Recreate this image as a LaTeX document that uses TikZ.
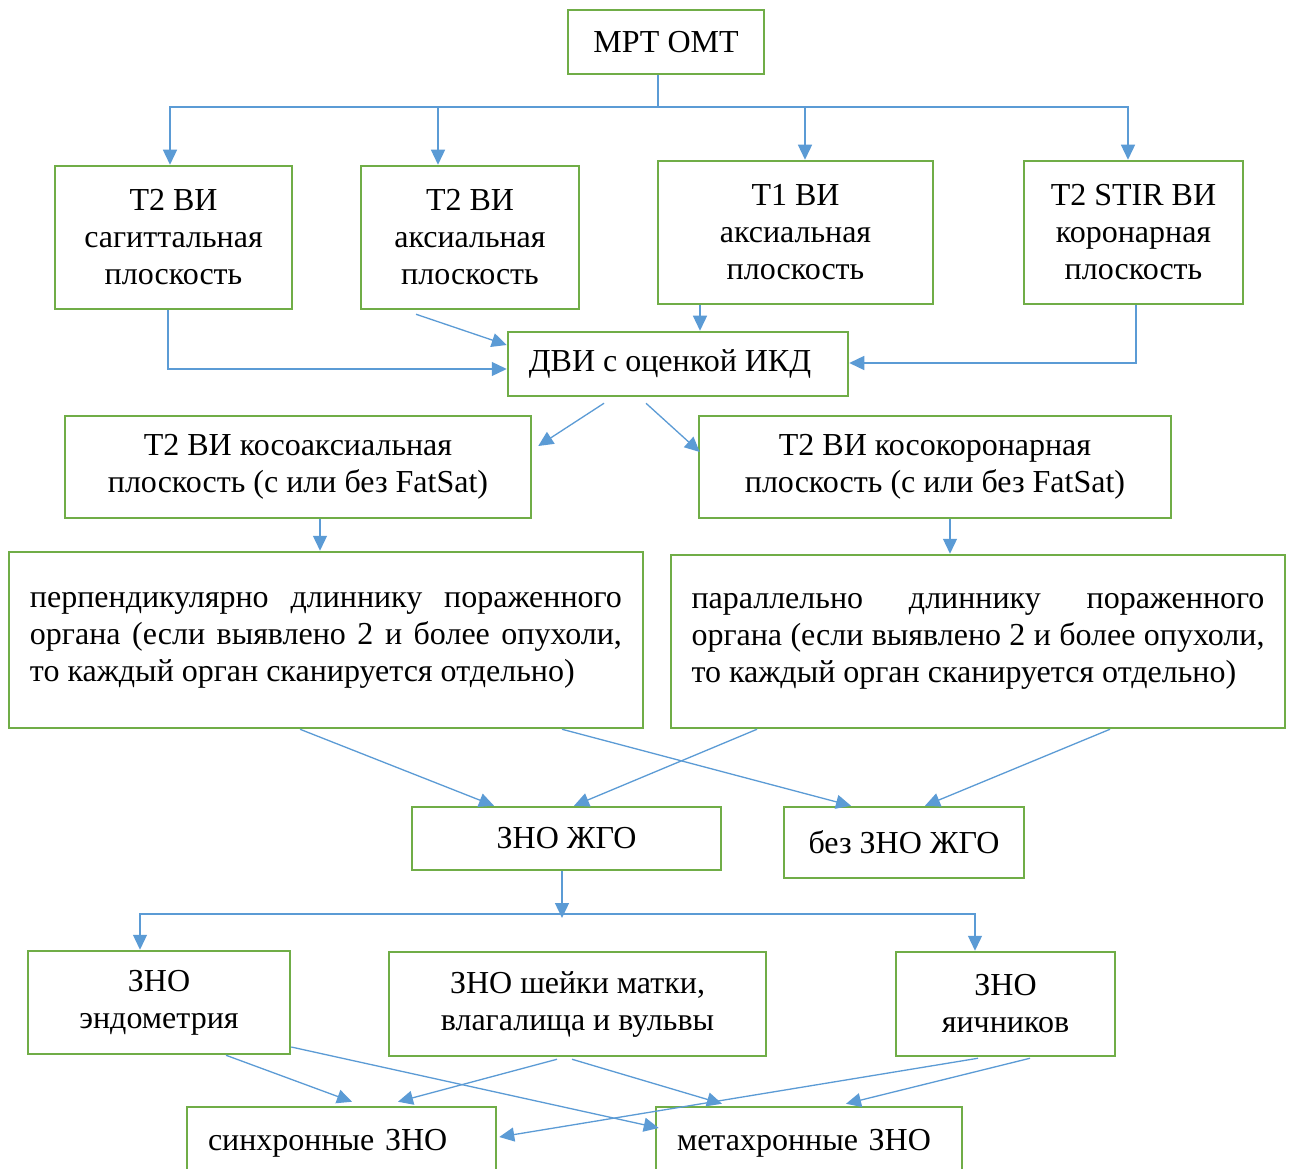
\documentclass[tikz,border=0pt]{standalone}
\usepackage{fontspec}
\setmainfont{Liberation Serif}
\usetikzlibrary{arrows.meta}
\definecolor{bgreen}{RGB}{112,173,71}
\definecolor{lblue}{RGB}{91,155,213}
\tikzset{
  box/.style={draw=bgreen, line width=2.5pt, fill=white, align=center, inner sep=2pt,
    font=\fontsize{32}{37}\selectfont},
  ln/.style={draw=lblue, line width=1.3pt},
  arr/.style={ln, -{Triangle[length=15pt,width=14pt]}},
}
\begin{document}
\begin{tikzpicture}[x=1pt,y=-1pt]
\useasboundingbox (0,0) rectangle (1294,1169);
\clip (0,0) rectangle (1294,1169);
\fill[white] (0,0) rectangle (1294,1169);

\node[box, minimum width=196, minimum height=64] (mrt) at (666,42) {МРТ ОМТ};
\node[box, minimum width=237, minimum height=143] (t2s) at (173.5,237.5) {Т2 ВИ\\сагиттальная\\плоскость};
\node[box, minimum width=218, minimum height=143] (t2a) at (470,237.5) {Т2 ВИ\\аксиальная\\плоскость};
\node[box, minimum width=275, minimum height=143] (t1) at (795.5,232.5) {Т1 ВИ\\аксиальная\\плоскость};
\node[box, minimum width=219, minimum height=143] (stir) at (1133.5,232.5) {Т2 STIR ВИ\\коронарная\\плоскость};
\node[box, minimum width=340, minimum height=64] (dvi) at (678,364) {\hspace*{-16pt}ДВИ с оценкой ИКД};
\node[box, minimum width=466, minimum height=102] (koa) at (298,467) {Т2 ВИ косоаксиальная\\плоскость (с или без FatSat)};
\node[box, minimum width=472, minimum height=102] (kok) at (935,467) {Т2 ВИ косокоронарная\\плоскость (с или без FatSat)};
\node[box, align=justify, text width=592, inner xsep=21, minimum height=176] (perp) at (326,640)
  {перпендикулярно длиннику пораженного\linebreak органа (если выявлено 2 и более опухоли,\linebreak то каждый орган сканируется отдельно)};
\node[box, align=justify, text width=573, inner xsep=20.5, minimum height=173] (par) at (978,641.5)
  {параллельно длиннику пораженного\linebreak органа (если выявлено 2 и более опухоли,\linebreak то каждый орган сканируется отдельно)};
\node[box, minimum width=309, minimum height=63] (zno) at (566.5,838.5) {ЗНО ЖГО};
\node[box, minimum width=240, minimum height=71] (bez) at (904,842.5) {без ЗНО ЖГО};
\node[box, minimum width=262, minimum height=103] (endo) at (159,1002.5) {ЗНО\\эндометрия};
\node[box, minimum width=377, minimum height=104] (shei) at (577.5,1004) {ЗНО шейки матки,\\влагалища и вульвы};
\node[box, minimum width=219, minimum height=104] (yaich) at (1005.5,1004) {ЗНО\\яичников};
\node[box, align=left, text width=267, inner xsep=21, minimum height=72] (sync) at (341.5,1143) {синхронные ЗНО};
\node[box, align=left, text width=264, inner xsep=21, minimum height=72] (meta) at (809,1143) {метахронные ЗНО};

% top fan-out
\coordinate (j1) at (658,107);
\draw[ln] (mrt.south -| j1) -- (j1);
\draw[arr] (j1) -| ([xshift=-3.5]t2s.north);
\draw[arr] (j1) -| ([xshift=-32]t2a.north);
\draw[arr] (j1) -| ([xshift=9.5]t1.north);
\draw[arr] (j1) -| ([xshift=-5.5]stir.north);

% to DVI
\draw[arr] ([xshift=-5.5]t2s.south) |- ([yshift=-5]dvi.west);
\draw[arr] ([xshift=-54,yshift=-4]t2a.south) -- ([yshift=19]dvi.west);
\draw[arr] ([xshift=-95.5]t1.south) -- ([xshift=22]dvi.north);
\draw[arr] ([xshift=2.5]stir.south) |- ([yshift=1]dvi.east);

% from DVI
\draw[arr] ([xshift=-74,yshift=-6]dvi.south) -- ([xshift=6,yshift=21]koa.east);
\draw[arr] ([xshift=-32,yshift=-6]dvi.south) -- ([xshift=2,yshift=15]kok.west);

\draw[arr] ([xshift=22]koa.south) -- ([xshift=-6]perp.north);
\draw[arr] ([xshift=15]kok.south) -- ([xshift=-28]par.north);

% to ZNO / bez
\draw[arr] ([xshift=-26]perp.south) -- ([xshift=-72.5]zno.north);
\draw[arr] ([xshift=236]perp.south) -- ([xshift=-53]bez.north);
\draw[arr] ([xshift=-221]par.south) -- ([xshift=7.5]zno.north);
\draw[arr] ([xshift=132]par.south) -- ([xshift=21]bez.north);

% ZNO fan-out
\coordinate (j2) at (562,914);
\draw[arr] ([xshift=-4.5]zno.south) -- ([yshift=-4]j2);
\draw[arr] (j2) -| ([xshift=-19]endo.north);
\draw[arr] (j2) -| ([xshift=-30.5]yaich.north);

% bottom
\draw[arr] ([xshift=67]endo.south) -- ([xshift=10.5,yshift=4]sync.north);
\draw[arr] ([yshift=-44.5]endo.east) -- ([xshift=4,yshift=15]meta.west);
\draw[arr] ([xshift=-20.5,yshift=-2]shei.south) -- ([xshift=56.5,yshift=4]sync.north);
\draw[arr] ([xshift=-5.5,yshift=-2]shei.south) -- ([xshift=-87,yshift=2]meta.north);
\draw[arr] ([xshift=-27.5,yshift=-1]yaich.south) -- ([xshift=2,yshift=6]sync.east);
\draw[arr] ([xshift=24.5,yshift=-1]yaich.south) -- ([xshift=37,yshift=2]meta.north);
\end{tikzpicture}
\end{document}
